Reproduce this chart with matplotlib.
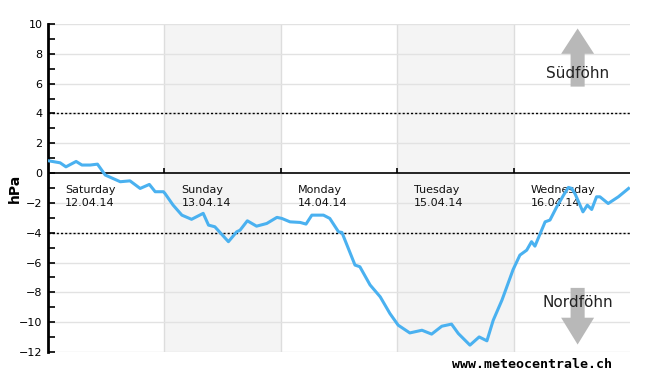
import matplotlib
matplotlib.use("Agg")
import matplotlib.pyplot as plt
from matplotlib.patches import FancyArrow

# pressure difference (hPa), hours since Saturday 00:00
hours = [0, 2.5, 3.7, 5.8, 7.0, 8.7, 10.2, 11.8, 14.9, 16.9, 19.0, 20.9, 22.1, 23.8,
         24.1, 25.8, 27.6, 29.6, 32.0, 33.1, 34.4, 37.2, 38.9, 39.6, 41.1, 43.0, 45.1,
         47.2, 48.2, 49.9, 52.0, 53.2, 54.4, 56.8, 58.1, 59.9, 60.6, 63.3, 64.3, 66.4,
         68.5, 70.5, 72.2, 74.6, 77.1, 79.1, 81.2, 83.2, 84.6, 87.0, 88.9, 90.5, 91.8,
         93.6, 95.9, 97.3, 98.7, 99.7, 100.4, 102.5, 103.5, 104.9, 106.3, 107.3, 108.0,
         108.7, 110.3, 111.2, 112.1, 113.1, 113.8, 115.5, 117.6, 119.7]
hpa = [0.83, 0.69, 0.42, 0.78, 0.54, 0.54, 0.6, -0.13, -0.58, -0.52, -1.03, -0.76, -1.25, -1.25,
       -1.36, -2.15, -2.82, -3.1, -2.7, -3.49, -3.6, -4.6, -3.94, -3.83, -3.2, -3.56, -3.38,
       -2.97, -3.04, -3.27, -3.31, -3.42, -2.82, -2.82, -3.04, -3.94, -3.98, -6.17, -6.28, -7.5,
       -8.3, -9.42, -10.2, -10.72, -10.54, -10.8, -10.27, -10.13, -10.76, -11.54, -10.99, -11.25, -9.87,
       -8.52, -6.47, -5.5, -5.17, -4.6, -4.9, -3.27, -3.15, -2.26, -1.48, -0.96, -1.03,
       -1.41, -2.6, -2.15, -2.44, -1.59, -1.59, -2.04, -1.59, -1.03]

days = ["Saturday", "Sunday", "Monday", "Tuesday", "Wednesday"]
dates = ["12.04.14", "13.04.14", "14.04.14", "15.04.14", "16.04.14"]
day_start = [0, 24, 48, 72, 96]

fig = plt.figure(figsize=(6.5, 3.75), dpi=100)
ax = fig.add_axes([48/650, 1-352/375, 582/650, 328/375])

ax.set_xlim(0, 120)
ax.set_ylim(-12, 10)

# shaded days
for d in [24, 72]:
    ax.axvspan(d, d+24, color="#f4f4f4", zorder=0, lw=0)
for d in day_start[1:]:
    ax.axvline(d, color="#dddddd", lw=1, zorder=1)
for v in range(-12, 11, 2):
    if v != 0:
        ax.axhline(v, color="#e2e2e2", lw=1, zorder=1)

ax.axhline(0, color="black", lw=1.2, zorder=3)
ax.vlines(day_start[1:], 0, 0.35, color="black", lw=1.2, zorder=3)
for v in [4, -4]:
    ax.axhline(v, color="black", lw=1, ls=(0, (1.5, 1.5)), zorder=3)

for d, name, dt in zip(day_start, days, dates):
    ax.text(d + 3.5, -0.8, name + "\n" + dt, fontsize=8, va="top", ha="left",
            linespacing=1.35, color="#111111", zorder=4)

ax.plot(hours, hpa, color="#4ab1f0", lw=2.2, zorder=5, solid_joinstyle="round")

# foehn arrows
arrow_x = 109.2
ax.add_patch(FancyArrow(arrow_x, 5.8, 0, 3.9, width=2.9, head_width=6.8, head_length=1.7,
                        length_includes_head=True, color="#b8b8b8", lw=0, zorder=2))
ax.add_patch(FancyArrow(arrow_x, -7.7, 0, -3.8, width=2.9, head_width=6.8, head_length=1.8,
                        length_includes_head=True, color="#b8b8b8", lw=0, zorder=2))
ax.text(arrow_x, 6.7, "Südföhn", fontsize=11, ha="center", va="center", color="#222222", zorder=4)
ax.text(arrow_x, -8.7, "Nordföhn", fontsize=11, ha="center", va="center", color="#222222", zorder=4)

# axes styling
for s in ["top", "right", "bottom"]:
    ax.spines[s].set_visible(False)
ax.spines["left"].set_linewidth(2)
ax.set_xticks([])
ax.set_yticks(range(-12, 11, 2))
ax.set_yticks(range(-12, 11, 1), minor=True)
ax.tick_params(axis="y", which="both", direction="in", length=5, width=1.2, labelsize=8, pad=4)
ax.set_ylabel("hPa", fontsize=10, fontweight="bold")
ax.yaxis.set_label_coords(-0.045, 0.5)

fig.text(612/650, 1-365/375, "www.meteocentrale.ch", fontsize=9.5, fontweight="bold",
         family="DejaVu Sans Mono", ha="right", va="center")

fig.savefig("out.png", dpi=100)
